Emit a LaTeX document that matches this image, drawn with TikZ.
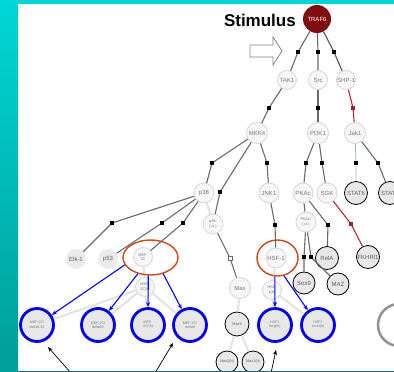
\documentclass[tikz,border=0pt]{standalone}
\usepackage{fontspec}
\setmainfont{Liberation Sans}
\usetikzlibrary{shapes.geometric,arrows.meta}
\definecolor{tealtop}{RGB}{0,214,214}
\definecolor{tealbot}{RGB}{0,158,152}
\definecolor{tealdark}{RGB}{0,118,118}
\definecolor{trafred}{RGB}{128,14,14}
\definecolor{ringred}{RGB}{210,72,22}
\definecolor{linegray}{RGB}{105,105,105}
\definecolor{redline}{RGB}{175,45,55}
\definecolor{labelgray}{RGB}{120,120,120}
\definecolor{hollowarrow}{RGB}{120,135,150}
\definecolor{statline}{RGB}{160,185,200}

\begin{document}
\begin{tikzpicture}[x=1pt,y=-1pt,
  gnode/.style={circle,draw=gray!30,fill=gray!6,line width=0.9,minimum size=19,
    inner sep=0,align=center,text=labelgray,font=\fontsize{6}{6}\selectfont},
  tinylbl/.style={font=\fontsize{3.8}{4.2}\selectfont},
  fnode/.style={circle,fill=gray!16,minimum size=20,inner sep=0,
    text=labelgray!80!black,font=\fontsize{6}{6}\selectfont},
  knode/.style={circle,draw=black,line width=0.8,fill=gray!18,minimum size=22,
    inner sep=0,align=center,text=labelgray!80!black,font=\fontsize{6}{6}\selectfont},
  bnode/.style={circle,draw=blue,line width=2.8,fill=gray!18,minimum size=33,
    inner sep=0,align=center,text=labelgray,font=\fontsize{3.6}{4.2}\selectfont},
  edge/.style={draw=linegray,line width=1.1},
  softedge/.style={draw=gray!22,line width=2},
  sq/.style={rectangle,fill=black,minimum size=3.2,inner sep=0},
  hsq/.style={rectangle,draw=linegray,fill=white,line width=0.6,minimum size=3.6,inner sep=0},
  ring/.style={ellipse,draw=ringred,line width=1.4,inner sep=0},
  bluearrow/.style={draw=blue,line width=1.1,-{Stealth[length=5pt,width=4pt]}},
  blackarrow/.style={draw=black,line width=0.7,-{Stealth[length=5pt,width=4pt]}}]

\useasboundingbox (0,0) rectangle (394,372);
\fill[white] (0,0) rectangle (394,372);

% frame bands
\shade[top color=tealtop,bottom color=tealbot] (0,0) rectangle (18,372);
\fill[tealtop] (0,0) rectangle (394,4);

% stimulus label and hollow arrow
\node[font=\bfseries\fontsize{17}{17}\selectfont,anchor=east,inner sep=0] (stim) at (296,20) {Stimulus};
\draw[hollowarrow,line width=0.8,fill=white] (250,45) -- (273,45) -- (273,37) -- (282,51)
  -- (273,65) -- (273,57) -- (250,57) -- cycle;

% pathway nodes
\node[circle,fill=trafred,minimum size=28,inner sep=0,text=white,
  font=\fontsize{6}{6}\selectfont] (TRAF6) at (317,19) {TRAF6};
\node[gnode] (TAK1) at (287,80) {TAK1};
\node[gnode] (Src)  at (318,80) {Src};
\node[gnode] (SHP1) at (346,80) {SHP-1};
\node[gnode,minimum size=21] (MKK4) at (257,133) {MKK4};
\node[gnode,minimum size=21] (PDK1) at (318,133) {PDK1};
\node[gnode,minimum size=21] (Jak1) at (355,133) {Jak1};
\node[gnode,minimum size=20] (p38)  at (204,193) {p38};
\node[gnode,minimum size=20] (JNK1) at (269,193) {JNK1};
\node[gnode,minimum size=20] (PKAc) at (303,193) {PKAc};
\node[gnode,minimum size=20] (SGK)  at (327,193) {SGK};
\node[knode,minimum size=23] (STAT6) at (356,193) {STAT6};
\node[knode,minimum size=23] (STATx) at (390,193) {STAT6};
\node[gnode,minimum size=20,tinylbl] (p38a)  at (213,224) {p38-\\($\alpha$)};
\node[gnode,minimum size=20,tinylbl] (PKAca) at (306,222) {PKAc-\\($\alpha$)};
\node[fnode] (Elk1) at (76,259) {Elk-1};
\node[fnode] (p53)  at (108,259) {p53};
\node[gnode,tinylbl] (MEF2C) at (143,257) {MEF-\\2C};
\node[gnode,minimum size=20] (HSF1) at (276,258) {HSF-1};
\node[knode,minimum size=23] (RelA) at (327,258) {RelA};
\node[knode,minimum size=23] (FKHR) at (368,257) {FKHRl1};
\node[gnode,tinylbl] (MEF2Ch) at (145,287) {MEF-\\2C(h)};
\node[gnode,minimum size=21] (Max) at (240,288) {Max};
\node[gnode,tinylbl] (HSFh) at (272,290) {HSF-\\1(h)};
\node[knode] (Sox9) at (304,283) {Sox9};
\node[knode] (MAZ)  at (338,284) {MAZ};
\node[bnode] (m1) at (37,325)  {MEF-2C/\\delta8,32};
\node[bnode] (m2) at (98,325)  {MEF-2C/\\delta32};
\node[bnode] (m3) at (148,325) {MEF-\\2C/(h)};
\node[bnode] (m4) at (190,325) {MEF-2C/\\delta8};
\node[knode,minimum size=24,font=\fontsize{3.8}{4.2}\selectfont] (Max9) at (237,324) {Max9};
\node[bnode] (hl) at (275,325) {HSF1\\long(h)};
\node[bnode] (hs) at (318,325) {HSF1\\short(h)};
\node[knode,font=\fontsize{3.8}{4.2}\selectfont] (Max2) at (227,362) {Max2(h)};
\node[knode,font=\fontsize{3.8}{4.2}\selectfont] (Max1) at (253,362) {Max1(h)};
\node[circle,draw=gray!85,line width=2.5,minimum size=42] (bigc) at (399,325) {};

% junction points on the connectors
\coordinate (q1)  at (298,52);  \coordinate (q2)  at (318,52);  \coordinate (q3)  at (334,52);
\coordinate (q4)  at (269,108); \coordinate (q5)  at (318,108); \coordinate (q6)  at (353,108);
\coordinate (q7)  at (212,163); \coordinate (q8)  at (220,192); \coordinate (q9)  at (267,163);
\coordinate (q10) at (306,163); \coordinate (q11) at (322,163); \coordinate (q12) at (356,163);
\coordinate (q13) at (378,163); \coordinate (q14) at (112,223); \coordinate (q15) at (162,223);
\coordinate (q16) at (183,223); \coordinate (q17) at (230,258); \coordinate (q18) at (275,225);
\coordinate (q19) at (328,225); \coordinate (q20) at (351,224); \coordinate (q21) at (304,257);
\coordinate (q22) at (311,257);

% faint secondary links
\draw[softedge] (p38) -- (p38a);
\draw[softedge] (MEF2C) -- (MEF2Ch);
\foreach \t in {m1,m2,m3,m4} \draw[softedge] (MEF2Ch) -- (\t);
\draw[softedge] (Max) -- (Max9);
\draw[softedge] (Max9) -- (Max2);
\draw[softedge] (Max9) -- (Max1);
\draw[softedge] (HSF1) -- (HSFh);
\draw[softedge] (HSFh) -- (hl);
\draw[softedge] (HSFh) -- (hs);

% main links
\draw[edge] (TRAF6) -- (q1) -- (TAK1);
\draw[edge] (TRAF6) -- (q2) -- (Src);
\draw[edge,draw=linegray!80!black] (TRAF6) -- (q3) -- (SHP1);
\draw[edge] (TAK1) -- (q4) -- (MKK4);
\draw[edge] (Src) -- (q5) -- (PDK1);
\draw[edge,draw=redline] (SHP1) -- (q6) -- (Jak1);
\draw[edge] (MKK4) -- (q7) -- (p38);
\draw[edge] (MKK4) -- (q8) -- (p38a);
\draw[edge] (MKK4) -- (q9) -- (JNK1);
\draw[edge] (PDK1) -- (q10) -- (PKAc);
\draw[edge] (PDK1) -- (q11) -- (SGK);
\draw[draw=statline,line width=0.8] (Jak1) -- (q12) -- (STAT6);
\draw[edge] (Jak1) -- (q13) -- (STATx);
\draw[edge] (p38) -- (q14) -- (Elk1);
\draw[edge] (p38) -- (q15) -- (p53);
\draw[edge] (p38) -- (q16) -- (MEF2C);
\draw[edge] (p38a) -- (q17) -- (Max);
\draw[edge] (JNK1) -- (q18) -- (HSF1);
\draw[edge] (PKAc) -- (PKAca);
\draw[edge] (PKAc) -- (q19) -- (RelA);
\draw[edge,draw=redline] (SGK) -- (q20) -- (FKHR);
\draw[edge] (PKAca) -- (q21) -- (Sox9);
\draw[edge] (PKAca) -- (q22) -- (MAZ);

% junction markers
\foreach \q in {q1,q2,q3,q4,q5,q7,q8,q9,q10,q11,q12,q13,q14,q15,q16,q18,q19,q21,q22}
  \node[sq] at (\q) {};
\node[sq,fill=redline!85!black] at (q6) {};
\node[sq,fill=redline!85!black] at (q20) {};
\node[hsq] at (q17) {};

% highlighted rings and the splice-form arrows
\node[ring,minimum width=55,minimum height=35] (mefring) at (150.5,257.5) {};
\node[ring,minimum width=41,minimum height=36] (hsfring) at (277.5,258) {};
\draw[bluearrow] (mefring.196) -- (m1);
\draw[bluearrow] (mefring.232) -- (m2);
\draw[bluearrow] (mefring.263) -- (m3);
\draw[bluearrow] (mefring.308) -- (m4);
\draw[bluearrow] (hsfring.262) -- (hl);
\draw[bluearrow] (hsfring.290) -- (hs);

% pointer arrows from below
\coordinate (t1) at (71,373);  \coordinate (h1) at (48,347);
\coordinate (t2) at (155,373); \coordinate (h2) at (173,343);
\coordinate (t3) at (271,373); \coordinate (h3) at (276,350);
\draw[blackarrow] (t1) -- (h1);
\draw[blackarrow] (t2) -- (h2);
\draw[blackarrow] (t3) -- (h3);

\fill[tealdark] (18,370.5) rectangle (394,372);
\end{tikzpicture}
\end{document}
